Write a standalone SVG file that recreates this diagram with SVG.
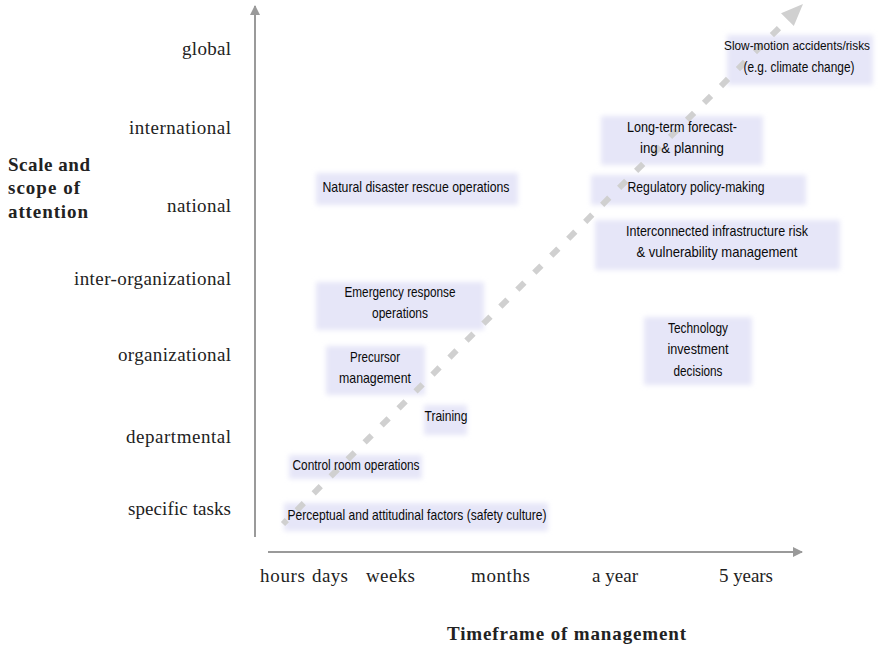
<svg xmlns="http://www.w3.org/2000/svg" width="879" height="647" viewBox="0 0 879 647">
<defs>
<filter id="soft" x="-20%" y="-40%" width="140%" height="180%"><feGaussianBlur stdDeviation="2.5"/></filter>
<marker id="ax" viewBox="0 0 10 10" refX="9" refY="5" markerWidth="5" markerHeight="5" orient="auto"><path d="M0,0 L10,5 L0,10 z" fill="#9a9a9a"/></marker>
</defs>
<style>
.box{fill:#e6e6f8;filter:url(#soft)}
.bt{font-family:"Liberation Sans",Arial,sans-serif;font-size:14.5px;fill:#0a0a0a;text-anchor:middle}
.ax{font-family:"Liberation Serif","Times New Roman",serif;font-size:19px;fill:#222}
.yl{text-anchor:end}
.bold{font-weight:bold}
.axis{stroke:#9a9a9a;stroke-width:2;fill:none}
</style>
<rect width="879" height="647" fill="#fff"/>
<g id="boxes-bg">
<rect class="box" x="727" y="35" width="146" height="50"/>
<rect class="box" x="601" y="116" width="162" height="49"/>
<rect class="box" x="591" y="175" width="215" height="30"/>
<rect class="box" x="595" y="220" width="245" height="50"/>
<rect class="box" x="316" y="173" width="202" height="32"/>
<rect class="box" x="316" y="282" width="168" height="48"/>
<rect class="box" x="644" y="317" width="108" height="68"/>
<rect class="box" x="326" y="346" width="99" height="49"/>
<rect class="box" x="424" y="405" width="43" height="30"/>
<rect class="box" x="289" y="455" width="133" height="24"/>
<rect class="box" x="284" y="503" width="264" height="28"/>
</g>
<g id="connectors">
<line class="axis" x1="255" y1="537" x2="255" y2="6" marker-end="url(#ax)"/>
<line class="axis" x1="268" y1="552" x2="802" y2="552" marker-end="url(#ax)"/>
<line x1="283" y1="524" x2="782" y2="25" stroke="#d0d0d0" stroke-width="6" stroke-dasharray="10 14" stroke-dashoffset="4.6"/>
<polygon points="803,4 793.8,26 781,13.2" fill="#d0d0d0"/>
</g>
<g id="y-axis-labels" class="ax yl">
<text x="231" y="55" textLength="49">global</text>
<text x="231" y="134" textLength="102">international</text>
<text x="231" y="212" textLength="64">national</text>
<text x="231" y="285" textLength="157">inter-organizational</text>
<text x="231" y="361" textLength="113">organizational</text>
<text x="231" y="443" textLength="105">departmental</text>
<text x="231" y="515" textLength="103">specific tasks</text>
</g>
<g id="y-title" class="ax bold">
<text x="8" y="171" textLength="82">Scale and</text>
<text x="8" y="194" textLength="72">scope of</text>
<text x="8" y="218" textLength="80">attention</text>
</g>
<g id="x-axis-labels" class="ax">
<text x="260" y="582" textLength="45">hours</text>
<text x="312" y="582" textLength="36">days</text>
<text x="366" y="582" textLength="49">weeks</text>
<text x="471" y="582" textLength="59">months</text>
<text x="592" y="582" textLength="46">a year</text>
<text x="719" y="582" textLength="54">5 years</text>
<text class="bold" x="447" y="640" textLength="239">Timeframe of management</text>
</g>
<g id="n-slow">
<text class="bt" x="797" y="50" style="font-size:12.5px" textLength="146" lengthAdjust="spacingAndGlyphs">Slow-motion accidents/risks</text>
<text class="bt" x="799" y="72" textLength="111" lengthAdjust="spacingAndGlyphs">(e.g. climate change)</text>
</g>
<g id="n-longterm">
<text class="bt" x="682" y="132" textLength="110" lengthAdjust="spacingAndGlyphs">Long-term forecast-</text>
<text class="bt" x="682" y="153" textLength="84" lengthAdjust="spacingAndGlyphs">ing &amp; planning</text>
</g>
<g id="n-regulatory">
<text class="bt" x="696" y="192" textLength="137" lengthAdjust="spacingAndGlyphs">Regulatory policy-making</text>
</g>
<g id="n-interconnected">
<text class="bt" x="717" y="236" textLength="182" lengthAdjust="spacingAndGlyphs">Interconnected infrastructure risk</text>
<text class="bt" x="717" y="257" textLength="161" lengthAdjust="spacingAndGlyphs">&amp; vulnerability management</text>
</g>
<g id="n-natural">
<text class="bt" x="416" y="192" textLength="187" lengthAdjust="spacingAndGlyphs">Natural disaster rescue operations</text>
</g>
<g id="n-emergency">
<text class="bt" x="400" y="297" textLength="111" lengthAdjust="spacingAndGlyphs">Emergency response</text>
<text class="bt" x="400" y="318" textLength="56" lengthAdjust="spacingAndGlyphs">operations</text>
</g>
<g id="n-technology">
<text class="bt" x="698" y="333" textLength="60" lengthAdjust="spacingAndGlyphs">Technology</text>
<text class="bt" x="698" y="354" textLength="61" lengthAdjust="spacingAndGlyphs">investment</text>
<text class="bt" x="698" y="376" textLength="49" lengthAdjust="spacingAndGlyphs">decisions</text>
</g>
<g id="n-precursor">
<text class="bt" x="375" y="362" textLength="50" lengthAdjust="spacingAndGlyphs">Precursor</text>
<text class="bt" x="375" y="383" textLength="72" lengthAdjust="spacingAndGlyphs">management</text>
</g>
<g id="n-training">
<text class="bt" x="446" y="421" textLength="43" lengthAdjust="spacingAndGlyphs">Training</text>
</g>
<g id="n-control">
<text class="bt" x="356" y="470" textLength="127" lengthAdjust="spacingAndGlyphs">Control room operations</text>
</g>
<g id="n-perceptual">
<text class="bt" x="417" y="520" textLength="259" lengthAdjust="spacingAndGlyphs">Perceptual and attitudinal factors (safety culture)</text>
</g>
</svg>
